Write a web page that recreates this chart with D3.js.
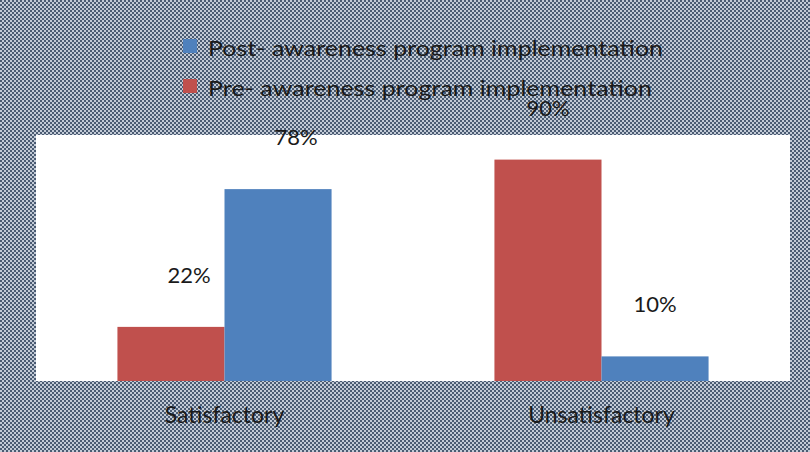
<!DOCTYPE html>
<html><head><meta charset="utf-8">
<script src="https://cdn.jsdelivr.net/npm/d3@7"></script>
<style>html,body{margin:0;padding:0;background:#fff}svg{display:block}</style>
</head><body><svg id="c" width="810" height="452"></svg>
<script>
const categories = ["Satisfactory", "Unsatisfactory"];
const seriesNames = ["Pre- awareness program implementation", "Post- awareness program implementation"];
const preValues = [22, 90];
const postValues = [78, 10];
const colors = ["#C0504D", "#4F81BD"];

const W = 810, H = 452;
const svg = d3.select("#c");
const defs = svg.append("defs");
const pat = defs.append("pattern").attr("id","chk").attr("patternUnits","userSpaceOnUse")
  .attr("width",4).attr("height",4);
pat.append("rect").attr("width",4).attr("height",4).attr("fill","#c2cad6");
pat.append("rect").attr("width",2).attr("height",2).attr("fill","#4a5b72");
pat.append("rect").attr("x",2).attr("y",2).attr("width",2).attr("height",2).attr("fill","#4a5b72");

svg.append("rect").attr("width",W).attr("height",H).attr("fill","url(#chk)");

const plot = {x0:36, x1:790, y0:135, y1:381};
svg.append("rect").attr("x",plot.x0).attr("y",plot.y0)
  .attr("width",plot.x1-plot.x0).attr("height",plot.y1-plot.y0).attr("fill","#fff");

const x = d3.scaleBand().domain(categories).range([plot.x0, plot.x1]).paddingInner(0.432).paddingOuter(0.216);
const x1 = d3.scaleBand().domain([0,1]).range([0, x.bandwidth()]);
const y = d3.scaleLinear().domain([0,100]).range([plot.y1, plot.y0]);

const rows = categories.map((c,i)=>({cat:c, vals:[preValues[i], postValues[i]]}));
const font = "Lato, 'Open Sans', sans-serif";

const g = svg.append("g");
rows.forEach((r,ci)=>{
  r.vals.forEach((v,si)=>{
    const bx = x(r.cat) + x1(si);
    g.append("rect").attr("x",bx).attr("y",y(v)).attr("width",x1.bandwidth())
      .attr("height",y(0)-y(v)).attr("fill",colors[si]);
    const dx = ci===0 ? 18 : 0;
    g.append("text").attr("x",bx + x1.bandwidth()/2 + dx).attr("y",y(v)-44)
      .attr("text-anchor","middle").attr("font-family",font).attr("font-size",22)
      .attr("fill","#1a1a1a").text(v+"%");
  });
});

// category axis labels
const ax = d3.axisBottom(x).tickSize(0).tickPadding(0);
const axg = svg.append("g").attr("transform",`translate(0,${plot.y1})`).call(ax);
axg.select(".domain").remove();
axg.attr("font-size",null).attr("font-family",null);
axg.selectAll("text").attr("font-family",font).attr("font-size",23).attr("fill","#1a1a1a")
  .attr("dy",null).attr("y",42);

// legend
const legend = [{name:seriesNames[1], color:colors[1], y:56, w:455},{name:seriesNames[0], color:colors[0], y:96, w:444}];
legend.forEach(l=>{
  svg.append("rect").attr("x",183).attr("y",l.y-17).attr("width",14).attr("height",14).attr("fill",l.color);
  svg.append("text").attr("x",208).attr("y",l.y).attr("font-family",font).attr("font-size",22)
    .attr("fill","#1a1a1a").attr("textLength",l.w).attr("lengthAdjust","spacingAndGlyphs").text(l.name);
});
</script></body></html>
